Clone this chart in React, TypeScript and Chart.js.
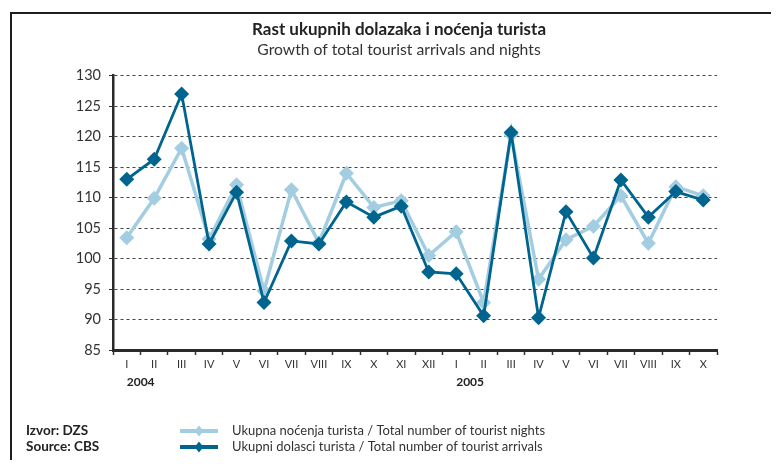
import React, { useEffect, useRef } from "react";
import { Chart, registerables } from "chart.js";

Chart.register(...registerables);

const titleText = "Rast ukupnih dolazaka i noćenja turista";
const subtitleText = "Growth of total tourist arrivals and nights";

const months = ["I", "II", "III", "IV", "V", "VI", "VII", "VIII", "IX", "X", "XI", "XII",
  "I", "II", "III", "IV", "V", "VI", "VII", "VIII", "IX", "X"];
const years = ["2004", "", "", "", "", "", "", "", "", "", "", "",
  "2005", "", "", "", "", "", "", "", "", ""];

const nightsLabel = "Ukupna noćenja turista / Total number of tourist nights";
const arrivalsLabel = "Ukupni dolasci turista / Total number of tourist arrivals";

const nights = [103.4, 109.9, 118.1, 103.2, 112.1, 94.7, 111.3, 102.6, 114.0, 108.4, 109.5, 100.5,
  104.4, 92.8, 120.3, 96.6, 103.1, 105.3, 110.3, 102.5, 111.8, 110.3];
const arrivals = [113.0, 116.3, 127.0, 102.4, 110.9, 92.8, 102.9, 102.4, 109.3, 106.8, 108.6, 97.8,
  97.5, 90.6, 120.7, 90.3, 107.7, 100.1, 112.9, 106.8, 111.0, 109.6];

const yMin = 85;
const yMax = 130;
const yStep = 5;

const sourceLines = ["Izvor: DZS", "Source: CBS"];

const LIGHT = "#a3cde1";
const DARK = "#00658e";
const FONT = "Lato, 'DejaVu Sans', sans-serif";
const TEXT = "#333333";

const sideLegend = {
  id: "sideLegend",
  afterDraw(chart: any) {
    const ctx = chart.ctx as CanvasRenderingContext2D;
    const baseY = chart.chartArea.bottom + 81;
    const gap = 16;
    ctx.save();
    ctx.textBaseline = "middle";
    ctx.textAlign = "left";
    ctx.fillStyle = "#222";
    ctx.font = `bold 13.5px ${FONT}`;
    sourceLines.forEach((t, i) => ctx.fillText(t, 14, baseY + i * gap));
    chart.data.datasets.forEach((ds: any, i: number) => {
      const y = baseY + i * gap;
      const x0 = 168;
      const x1 = 206;
      ctx.strokeStyle = ds.borderColor;
      ctx.lineWidth = 4;
      ctx.beginPath();
      ctx.moveTo(x0, y);
      ctx.lineTo(x1, y);
      ctx.stroke();
      const cx = (x0 + x1) / 2;
      const r = 5.5;
      ctx.fillStyle = ds.borderColor;
      ctx.beginPath();
      ctx.moveTo(cx, y - r);
      ctx.lineTo(cx + r * 0.8, y);
      ctx.lineTo(cx, y + r);
      ctx.lineTo(cx - r * 0.8, y);
      ctx.closePath();
      ctx.fill();
      ctx.fillStyle = TEXT;
      ctx.font = `13px ${FONT}`;
      ctx.fillText(ds.label, 220, y);
    });
    ctx.restore();
  },
};

export default function App() {
  const ref = useRef<HTMLCanvasElement | null>(null);

  useEffect(() => {
    if (!ref.current) return;
    const chart = new Chart(ref.current, {
      type: "line",
      data: {
        labels: months,
        datasets: [
          {
            label: nightsLabel,
            data: nights,
            borderColor: LIGHT,
            backgroundColor: LIGHT,
            borderWidth: 3.5,
            pointStyle: "rectRot",
            pointRadius: 7.5,
            pointBorderWidth: 0,
            pointBackgroundColor: LIGHT,
            tension: 0,
            order: 2,
            yAxisID: "y",
          },
          {
            label: arrivalsLabel,
            data: arrivals,
            borderColor: DARK,
            backgroundColor: DARK,
            borderWidth: 2.8,
            pointStyle: "rectRot",
            pointRadius: 7.5,
            pointBorderWidth: 0,
            pointBackgroundColor: DARK,
            tension: 0,
            order: 1,
            yAxisID: "y",
          },
        ],
      },
      options: {
        responsive: false,
        devicePixelRatio: 1,
        animation: false,
        events: [],
        layout: { padding: { left: 0, right: 0, top: 0, bottom: 73 } },
        plugins: {
          legend: { display: false },
          tooltip: { enabled: false },
          title: {
            display: true,
            text: titleText,
            color: "#222",
            font: { family: FONT, size: 17, weight: "bold", lineHeight: 1.2 },
            padding: { top: 5.8, bottom: 0 },
          },
          subtitle: {
            display: true,
            text: subtitleText,
            color: TEXT,
            font: { family: FONT, size: 15.7, weight: "normal", lineHeight: 1.2 },
            padding: { top: 0, bottom: 16.7 },
          },
        },
        scales: {
          y: {
            min: yMin,
            max: yMax,
            position: "left",
            afterFit: (scale: any) => {
              scale.width = 101;
            },
            ticks: {
              stepSize: yStep,
              color: TEXT,
              padding: 8,
              font: { family: FONT, size: 14.5 },
            },
            grid: {
              color: "#444",
              lineWidth: 1,
              drawTicks: true,
              tickLength: 4,
              tickColor: "#333",
              tickWidth: 1,
              tickBorderDash: [],
            },
            border: { display: true, color: "#2a2a2a", width: 2.5, dash: [3, 3] },
          },
          yPad: {
            type: "linear",
            position: "right",
            display: true,
            afterFit: (scale: any) => {
              scale.width = 69;
            },
            ticks: { display: false },
            grid: { display: false, drawTicks: false, drawOnChartArea: false },
            border: { display: false },
          },
          x: {
            type: "category",
            offset: true,
            position: "bottom",
            ticks: {
              autoSkip: false,
              maxRotation: 0,
              minRotation: 0,
              color: TEXT,
              padding: 2.4,
              font: { family: FONT, size: 11 },
            },
            grid: {
              offset: true,
              drawOnChartArea: false,
              drawTicks: true,
              tickLength: 5,
              tickColor: "#333",
              tickWidth: 1.5,
            },
            border: { display: true, color: "#2a2a2a", width: 3 },
          },
          x2: {
            type: "category",
            labels: years,
            offset: true,
            position: "bottom",
            ticks: {
              autoSkip: false,
              maxRotation: 0,
              minRotation: 0,
              align: "start",
              color: "#222",
              padding: 1.8,
              font: { family: FONT, size: 12, weight: "bold" },
            },
            grid: { display: false, drawTicks: false, drawOnChartArea: false },
            border: { display: false },
          },
        },
      },
      plugins: [sideLegend],
    } as any);
    return () => chart.destroy();
  }, []);

  return (
    <div
      style={{
        position: "relative",
        top: 4,
        left: 2,
        width: 767,
        height: 450,
        borderTop: "2px solid #1e1e1e",
        borderLeft: "2px solid #1e1e1e",
        overflow: "hidden",
      }}
    >
      <canvas ref={ref} width={774} height={450} style={{ display: "block" }} />
    </div>
  );
}
